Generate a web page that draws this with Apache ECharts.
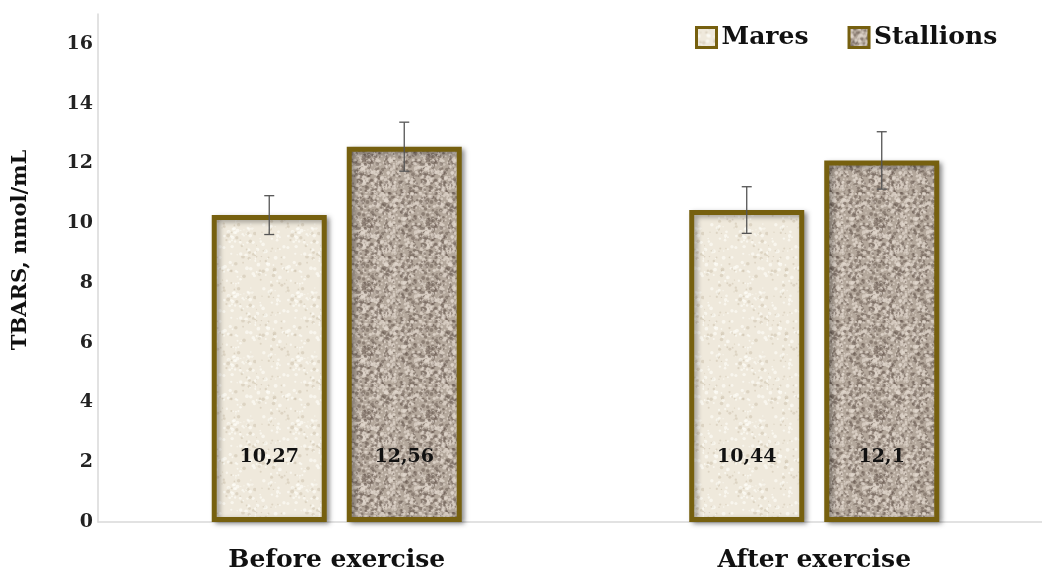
<!DOCTYPE html>
<html>
<head>
<meta charset="utf-8">
<style>
    html, body {
        margin: 0;
        padding: 0;
        background: #fff;
    }
    #chart {
        width: 1042px;
        height: 573px;
    }
</style>
<script src="https://cdn.jsdelivr.net/npm/echarts@6/dist/echarts.min.js"></script>
</head>
<body>
<div id="chart"></div>
<script>
    // data
    var categories = ['Before exercise', 'After exercise']
    var seriesNames = ['Mares', 'Stallions']
    var maresValues = [10.27, 10.44]
    var stallionsValues = [12.56, 12.1]
    var maresErrors = [0.65, 0.78]
    var stallionsErrors = [0.82, 0.96]
    var yTicks = { min: 0, max: 17, interval: 2 }

    var FONT = '"DejaVu Serif", "Liberation Serif", serif'
    var BAR_W = 115
    var BAR_GAP = 0.174

    // speckled texture like the office "paper" fill
    function texture (base, dark, light, amount) {
        var c = document.createElement('canvas')
        c.width = 64
        c.height = 64
        var ctx = c.getContext('2d')
        ctx.fillStyle = base
        ctx.fillRect(0, 0, 64, 64)
        var s = 7
        function rnd () {
            s = (s * 16807) % 2147483647
            return s / 2147483647
        }
        for (var i = 0; i < amount; i++) {
            ctx.fillStyle = rnd() < 0.5 ? dark : light
            var r = 0.6 + rnd() * 1.4
            ctx.beginPath()
            ctx.arc(rnd() * 64, rnd() * 64, r, 0, Math.PI * 2)
            ctx.fill()
        }
        return { image: c, repeat: 'repeat' }
    }

    var maresFill = texture('#efe9dc', 'rgba(190,175,150,0.35)', 'rgba(255,255,250,0.6)', 160)
    var stallionsFill = texture('#b4a89c', 'rgba(110,95,85,0.55)', 'rgba(225,215,205,0.7)', 700)

    function barStyle (fill) {
        return {
            color: fill,
            borderColor: '#76600f',
            borderWidth: 5,
            shadowBlur: 5,
            shadowColor: 'rgba(0,0,0,0.35)',
            shadowOffsetX: 3,
            shadowOffsetY: 2
        }
    }

    function fmt (v) {
        return String(v).replace('.', ',')
    }

    // category index -> value pairs, the x axis is numeric so the bands can be wider than the canvas allows
    function pairs (values) {
        return categories.map(function (c, i) { return [i, values[i]] })
    }

    function errorSeries (values, errors, side) {
        return {
            type: 'custom',
            silent: true,
            z: 5,
            data: values.map(function (v, i) { return [i, v, errors[i]] }),
            renderItem: function (params, api) {
                var off = side * BAR_W * (1 + BAR_GAP) / 2
                var hi = api.coord([api.value(0), api.value(1) + api.value(2)])
                var lo = api.coord([api.value(0), api.value(1) - api.value(2)])
                var x = hi[0] + off
                var cap = 5
                var st = { stroke: '#555', lineWidth: 1.3 }
                return {
                    type: 'group',
                    children: [
                        { type: 'line', shape: { x1: x, y1: hi[1], x2: x, y2: lo[1] }, style: st },
                        { type: 'line', shape: { x1: x - cap, y1: hi[1], x2: x + cap, y2: hi[1] }, style: st },
                        { type: 'line', shape: { x1: x - cap, y1: lo[1], x2: x + cap, y2: lo[1] }, style: st }
                    ]
                }
            }
        }
    }

    var labelStyle = {
        show: true,
        position: 'insideBottom',
        distance: 55,
        fontFamily: FONT,
        fontWeight: 'bold',
        fontSize: 19,
        color: '#111',
        formatter: function (p) { return fmt(p.value[1]) }
    }

    var chart = echarts.init(document.getElementById('chart'))

    chart.setOption({
        animation: false,
        textStyle: { fontFamily: FONT },
        legend: {
            data: seriesNames,
            top: 20,
            left: 690,
            itemWidth: 20,
            itemHeight: 20,
            itemGap: 39,
            icon: 'rect',
            itemStyle: { borderWidth: 3, borderColor: '#76600f' },
            textStyle: { fontFamily: FONT, fontWeight: 'bold', fontSize: 25, color: '#111' }
        },
        grid: {
            left: 98,
            top: 14,
            right: 0,
            height: 508,
            containLabel: false
        },
        xAxis: {
            type: 'value',
            min: -0.5,
            max: 1.477,
            interval: 0.5,
            axisLine: { show: true, onZero: false, lineStyle: { color: '#d9d9d9', width: 1.5 } },
            axisTick: { show: false },
            splitLine: { show: false },
            axisLabel: {
                margin: 26,
                showMaxLabel: false,
                showMinLabel: false,
                fontFamily: FONT,
                fontWeight: 'bold',
                fontSize: 25,
                color: '#111',
                formatter: function (v) {
                    return Number.isInteger(v) && categories[v] ? categories[v] : ''
                }
            }
        },
        yAxis: {
            type: 'value',
            min: yTicks.min,
            max: yTicks.max,
            interval: yTicks.interval,
            name: 'TBARS, nmol/mL',
            nameLocation: 'middle',
            nameGap: 67,
            nameTextStyle: {
                fontFamily: FONT,
                fontWeight: 'bold',
                fontSize: 21,
                color: '#111',
                padding: [0, 0, 0, 36]
            },
            axisLine: { show: true, onZero: false, lineStyle: { color: '#d9d9d9', width: 1.5 } },
            axisTick: { show: false },
            splitLine: { show: false },
            axisLabel: {
                showMaxLabel: false,
                margin: 5,
                fontFamily: FONT,
                fontWeight: 'bold',
                fontSize: 19,
                color: '#222'
            }
        },
        series: [
            {
                name: seriesNames[0],
                type: 'bar',
                data: pairs(maresValues),
                barWidth: BAR_W,
                barGap: (BAR_GAP * 100) + '%',
                itemStyle: barStyle(maresFill),
                label: labelStyle
            },
            {
                name: seriesNames[1],
                type: 'bar',
                data: pairs(stallionsValues),
                barWidth: BAR_W,
                barGap: (BAR_GAP * 100) + '%',
                itemStyle: barStyle(stallionsFill),
                label: labelStyle
            },
            errorSeries(maresValues, maresErrors, -1),
            errorSeries(stallionsValues, stallionsErrors, 1)
        ]
    })
</script>
</body>
</html>
